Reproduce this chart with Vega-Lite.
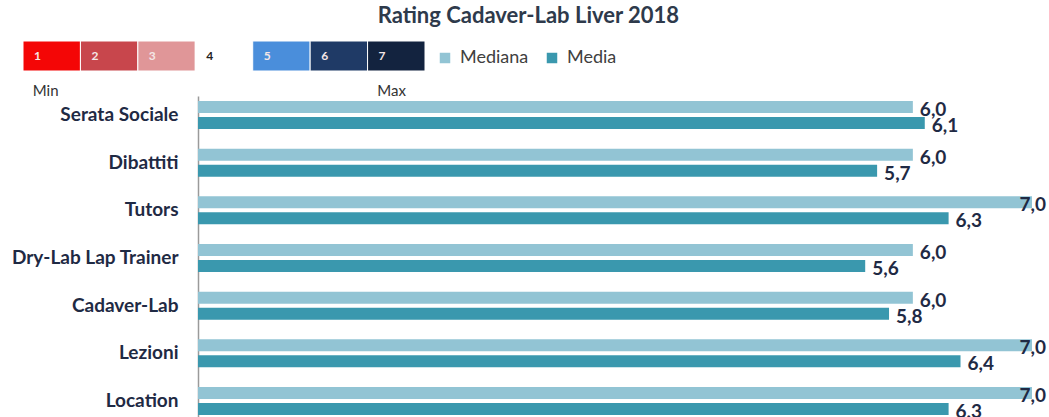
{
  "$schema": "https://vega.github.io/schema/vega-lite/v6.json",
  "padding": {"left": 10, "top": 4, "right": 2, "bottom": 0},
  "background": "white",
  "title": {"text": "Rating Cadaver-Lab Liver 2018", "anchor": "middle", "font": "Lato", "fontSize": 22, "fontWeight": "bold", "color": "#2E3A4B", "offset": 13},
  "config": {
    "view": {"stroke": null},
    "locale": {"number": {"decimal": ",", "thousands": ".", "grouping": [3], "currency": ["", " €"]}}
  },
  "resolve": {"scale": {"color": "independent", "x": "independent", "y": "independent"}},
  "align": "none",
  "bounds": "full",
  "spacing": -49,
  "vconcat": [
    {
      "width": 424,
      "height": 30,
      "data": {"values": [
        {"rating": 1}, {"rating": 2}, {"rating": 3}, {"rating": 4}, {"rating": 5}, {"rating": 6}, {"rating": 7}
      ]},
      "encoding": {
        "x": {"field": "rating", "type": "ordinal", "scale": {"paddingInner": 0, "paddingOuter": 0, "range": [-175, 227]},
          "axis": {"title": null, "domain": false, "ticks": false, "labelAngle": 0, "labelAlign": "left", "labelOffset": -19, "labelPadding": 12,
            "labelExpr": "datum.value == 1 ? 'Min' : datum.value == 7 ? 'Max' : ''", "labelFont": "Lato", "labelFontSize": 15, "labelColor": "#333333"}}
      },
      "layer": [
        {
          "mark": {"type": "rect", "stroke": "white", "strokeWidth": 1},
          "encoding": {
            "color": {"field": "rating", "type": "nominal", "legend": null,
              "scale": {"domain": [1, 2, 3, 4, 5, 6, 7], "range": ["#F40606", "#C8464C", "#E09698", "#ffffff", "#4A8EDB", "#1F3A66", "#13233F"]}}
          }
        },
        {
          "mark": {"type": "text", "align": "left", "dx": 11, "font": "Lato", "fontSize": 12, "fontWeight": "bold"},
          "encoding": {
            "x": {"field": "rating", "type": "ordinal", "bandPosition": 0},
            "text": {"field": "rating", "type": "nominal"},
            "color": {"condition": {"test": "datum.rating == 4", "value": "#222222"}, "value": "#F4E6E6"}
          }
        }
      ]
    },
    {
      "width": 834,
      "height": 324,
      "data": {"values": [
        {"cat": "Serata Sociale", "series": "Mediana", "value": 6.0},
        {"cat": "Serata Sociale", "series": "Media", "value": 6.1},
        {"cat": "Dibattiti", "series": "Mediana", "value": 6.0},
        {"cat": "Dibattiti", "series": "Media", "value": 5.7},
        {"cat": "Tutors", "series": "Mediana", "value": 7.0},
        {"cat": "Tutors", "series": "Media", "value": 6.3},
        {"cat": "Dry-Lab Lap Trainer", "series": "Mediana", "value": 6.0},
        {"cat": "Dry-Lab Lap Trainer", "series": "Media", "value": 5.6},
        {"cat": "Cadaver-Lab", "series": "Mediana", "value": 6.0},
        {"cat": "Cadaver-Lab", "series": "Media", "value": 5.8},
        {"cat": "Lezioni", "series": "Mediana", "value": 7.0},
        {"cat": "Lezioni", "series": "Media", "value": 6.4},
        {"cat": "Location", "series": "Mediana", "value": 7.0},
        {"cat": "Location", "series": "Media", "value": 6.3}
      ]},
      "encoding": {
        "y": {"field": "cat", "type": "nominal", "sort": null,
          "scale": {"paddingInner": 0.413, "paddingOuter": 0.105},
          "axis": {"title": null, "ticks": false, "domainColor": "#9A9A9A", "domainWidth": 1.5, "labelPadding": 20, "labelFont": "Lato", "labelFontSize": 19, "labelFontWeight": "bold", "labelColor": "#1F2A44", "labelLimit": 300}},
        "yOffset": {"field": "series", "type": "nominal", "sort": ["Mediana", "Media"], "scale": {"paddingInner": 0.25, "paddingOuter": 0}},
        "x": {"field": "value", "type": "quantitative", "scale": {"domain": [0, 7], "nice": false}, "axis": null}
      },
      "layer": [
        {
          "mark": {"type": "bar"},
          "encoding": {
            "color": {"field": "series", "type": "nominal", "sort": ["Mediana", "Media"],
              "scale": {"domain": ["Mediana", "Media"], "range": ["#92C4D4", "#3A98AE"]},
              "legend": {"title": null, "orient": "none", "legendX": 238, "legendY": -47, "direction": "horizontal",
                "symbolType": "square", "symbolSize": 110, "symbolStrokeWidth": 0, "labelFont": "Lato", "labelFontSize": 18, "labelColor": "#404040", "labelOffset": 6, "columnPadding": 14}}
          }
        },
        {
          "mark": {"type": "text", "font": "Lato", "fontSize": 19, "fontWeight": "bold", "color": "#1F2A44", "dy": 3,
            "align": {"expr": "datum.value >= 7 ? 'right' : 'left'"},
            "dx": {"expr": "datum.value >= 7 ? 14 : 7"}},
          "encoding": {
            "text": {"field": "value", "type": "quantitative", "format": ".1f"}
          }
        }
      ]
    }
  ]
}
